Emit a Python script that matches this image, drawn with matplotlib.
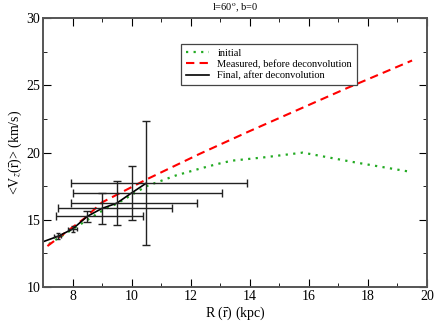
import numpy as np
import matplotlib
matplotlib.use("Agg")
import matplotlib.pyplot as plt
from matplotlib.ticker import MultipleLocator

plt.rcParams['font.family'] = ['Liberation Serif', 'DejaVu Serif']
plt.rcParams['mathtext.fontset'] = 'stix'

# initial (green dotted)
r_init = [7.2, 8.4, 9.1, 9.5, 10.5, 11.5, 12.3, 12.9, 13.4, 14.5, 15.8, 17.5, 19.5]
v_init = [13.2, 14.85, 15.8, 16.2, 17.5, 18.3, 18.8, 19.15, 19.4, 19.65, 20.0, 19.3, 18.55]

# measured, before deconvolution (red dashed)
r_meas = [7.15, 8.4, 9.0, 10.5, 12.3, 14.0, 17.3, 19.5]
v_meas = [13.05, 15.1, 16.3, 18.0, 19.9, 21.6, 24.8, 26.85]

# final, after deconvolution (black)
r_fin = [7.0, 7.5, 8.0, 8.5, 9.0, 9.5, 10.0, 10.5]
v_fin = [13.37, 13.77, 14.31, 15.26, 15.85, 16.24, 17.0, 17.73]

# error bars on the final points
r_err = [7.5, 8.0, 8.5, 9.0, 9.5, 10.0, 10.5]
v_err = [13.77, 14.31, 15.26, 15.85, 16.24, 17.0, 17.73]
xerr_lo = [0.12, 0.14, 1.05, 1.5, 1.56, 1.97, 2.54]
xerr_hi = [0.12, 0.14, 1.9, 2.38, 2.7, 3.05, 3.42]
yerr = [0.22, 0.22, 0.4, 1.13, 1.65, 2.02, 4.6]

fig = plt.figure(figsize=(4.36, 3.24), dpi=100)
ax = fig.add_axes([0.0986, 0.114, 0.8804, 0.83])

ax.plot(r_init, v_init, color='#22aa22', ls=(0, (1, 2.4)), lw=1.6, label='initial')
ax.plot(r_meas, v_meas, color='red', ls=(0, (4, 2.5)), lw=1.5,
        label='Measured, before deconvolution')
ax.plot(r_fin, v_fin, color='black', lw=1.2, label='Final, after deconvolution')
# small bars get small caps, the rest normal caps
ax.errorbar(r_err[:2], v_err[:2], xerr=[xerr_lo[:2], xerr_hi[:2]], yerr=yerr[:2],
            fmt='none', ecolor='#222222', elinewidth=1.0, capsize=1.5, capthick=1.0)
ax.errorbar(r_err[2:], v_err[2:], xerr=[xerr_lo[2:], xerr_hi[2:]], yerr=yerr[2:],
            fmt='none', ecolor='#222222', elinewidth=1.0, capsize=3, capthick=1.0)

ax.set_xlim(7, 20)
ax.set_ylim(10, 30)
ax.xaxis.set_major_locator(MultipleLocator(2))
ax.xaxis.set_minor_locator(MultipleLocator(1))
ax.yaxis.set_major_locator(MultipleLocator(5))
ax.yaxis.set_minor_locator(MultipleLocator(2.5))
ax.tick_params(which='both', direction='in', top=True, right=True,
               labelsize=10, pad=2)
ax.tick_params(which='major', length=6)
ax.tick_params(which='minor', length=3)
for s in ax.spines.values():
    s.set_color('#555555')
    s.set_linewidth(1.4)

ax.set_xlabel(r'R ($\bar{\rm r}$) (kpc)', fontsize=10, labelpad=1)
ax.set_ylabel(r'<V$_z$($\bar{\rm r}$)> (km/s)', fontsize=10, labelpad=2)
ax.set_title(r'l=60$^{\rm o}$, b=0', fontsize=7.5, pad=6)

leg = ax.legend(loc='upper left', bbox_to_anchor=(0.347, 0.925), fontsize=7.5,
                fancybox=False, framealpha=1, edgecolor='#444444',
                handlelength=2.2, borderpad=0.45, labelspacing=0.2)
leg.get_frame().set_linewidth(0.9)

fig.savefig('out.png', dpi=100)
